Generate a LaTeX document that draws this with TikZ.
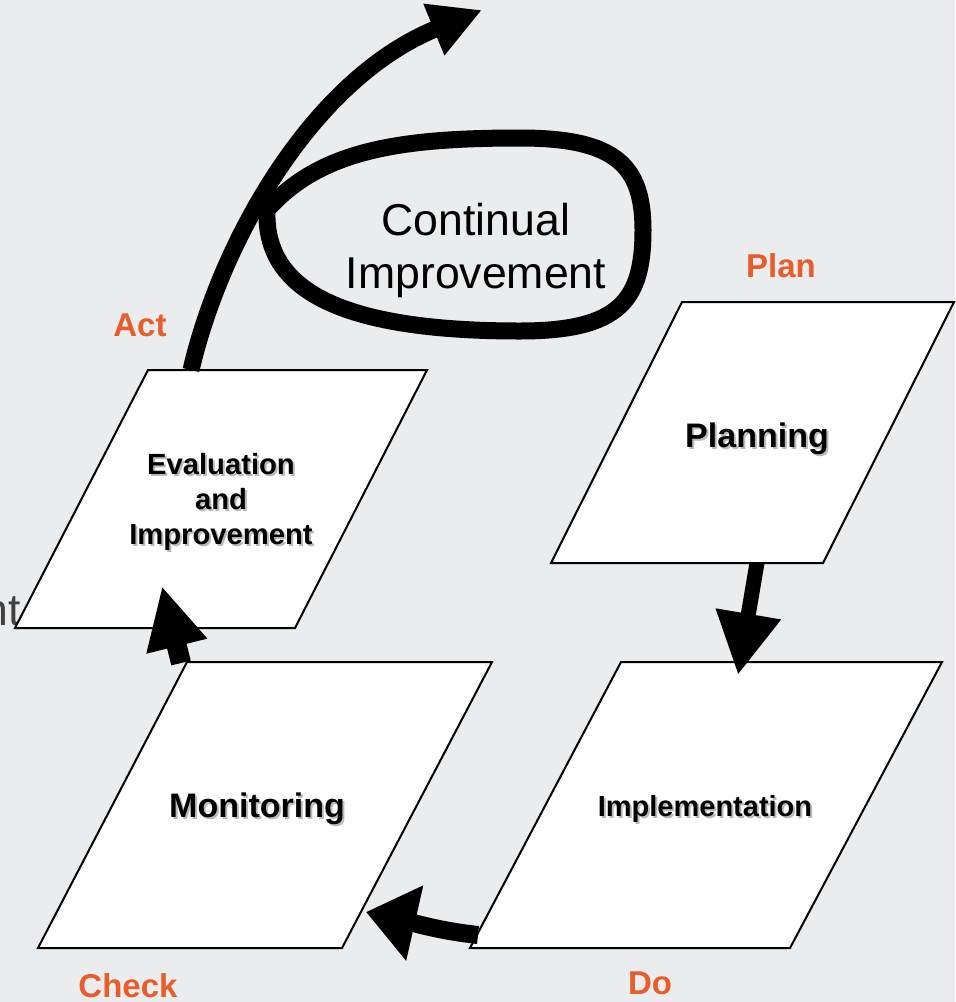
\documentclass[tikz,border=0pt]{standalone}
\usepackage{fontspec}
\setmainfont{Liberation Sans}
\usetikzlibrary{arrows.meta}
\definecolor{bg}{HTML}{EBECEE}
\definecolor{pdca}{HTML}{E95D2A}
\definecolor{ghost}{HTML}{404040}
\begin{document}
\begin{tikzpicture}[x=0.5pt,y=-0.5pt,
  box/.style={fill=white,draw=black,line width=1pt,line join=miter},
  lbl/.style={text=pdca,inner sep=0pt,anchor=base,font=\fontsize{16.5}{19}\selectfont\bfseries},
  stagebig/.style={inner sep=0pt,anchor=base,font=\fontsize{17}{20}\selectfont\bfseries},
  stagesmall/.style={inner sep=0pt,align=center,font=\fontsize{14.6}{17.5}\selectfont\bfseries},
  shade/.style={text=black!45,opacity=0.6},
  flow/.style={draw=black,line cap=butt}
]
\useasboundingbox (0,0) rectangle (955,1002);
\fill[bg] (0,0) rectangle (955,1002);

% partial text at left edge
\node[inner sep=0pt,anchor=base east,text=ghost,font=\fontsize{22.3}{26}\selectfont] (cut) at (21,625) {nt};

% parallelograms
\coordinate (e1) at (148,370); \coordinate (e2) at (427,370);
\coordinate (e3) at (295,628); \coordinate (e4) at (15,628);
\coordinate (p1) at (682,302); \coordinate (p2) at (954,302);
\coordinate (p3) at (823,563); \coordinate (p4) at (551,563);
\coordinate (i1) at (621,662); \coordinate (i2) at (942,662);
\coordinate (i3) at (790,948); \coordinate (i4) at (470,948);
\coordinate (m1) at (187,662); \coordinate (m2) at (492,662);
\coordinate (m3) at (342,948); \coordinate (m4) at (38,948);
\draw[box] (e1) -- (e2) -- (e3) -- (e4) -- cycle;
\draw[box] (p1) -- (p2) -- (p3) -- (p4) -- cycle;
\draw[box] (i1) -- (i2) -- (i3) -- (i4) -- cycle;
\draw[box] (m1) -- (m2) -- (m3) -- (m4) -- cycle;

% stage texts with soft shadow
\node[stagebig,shade] (planningS) at (759,449) {Planning};
\node[stagebig] (planning) at (757,447) {Planning};
\node[stagebig,shade] (monitoringS) at (259,819) {Monitoring};
\node[stagebig] (monitoring) at (257,817) {Monitoring};
\node[stagesmall,inner sep=0pt,anchor=base,font=\fontsize{14.5}{17}\selectfont\bfseries,shade] (implS) at (707,818) {Implementation};
\node[stagesmall,inner sep=0pt,anchor=base,font=\fontsize{14.5}{17}\selectfont\bfseries] (impl) at (705,816) {Implementation};
\node[stagesmall,shade] (evalS) at (223,504) {Evaluation\\and\\Improvement};
\node[stagesmall] (eval) at (221,502) {Evaluation\\and\\Improvement};

% orange PDCA labels
\node[lbl] (plan) at (781,277) {Plan};
\node[lbl] (act) at (140,336) {Act};
\node[lbl] (check) at (128,997) {Check};
\node[lbl] (do) at (650,994) {Do};

% continual improvement loop
\node[inner sep=0pt,align=center,font=\fontsize{22.3}{26.5}\selectfont] (ci) at (476,250) {Continual\\Improvement};
\coordinate (cusp) at (267,210);
\draw[flow,line width=8.5pt,line join=miter]
  (cusp) .. controls (320,150) and (400,138) .. (520,138)
  .. controls (615,138) and (643,165) .. (643,230)
  .. controls (643,300) and (620,331) .. (520,331)
  .. controls (340,331) and (264,290) .. cycle;

% connectors
\coordinate (actStart) at (191,370);
\coordinate (out) at (482,10);
\draw[flow,line width=8.5pt,-{Triangle[length=26pt,width=26pt]}]
  (actStart) .. controls (220,245) and (310,80) .. (out);

\coordinate (planOut) at (757,563);
\coordinate (implIn) at (738,675);
\draw[flow,line width=7.5pt,-{Triangle[length=31pt,width=31pt]}] (planOut) -- (implIn);

\coordinate (implOut) at (478,935);
\coordinate (monIn) at (366,912);
\draw[flow,line width=9pt,-{Triangle[length=25pt,width=37pt]}]
  (implOut) .. controls (440,931) and (410,922) .. (monIn);

\coordinate (monOut) at (181,663);
\coordinate (evalIn) at (162,586);
\draw[flow,line width=10pt,-{Triangle[length=31pt,width=29pt]}] (monOut) -- (evalIn);
\end{tikzpicture}
\end{document}
